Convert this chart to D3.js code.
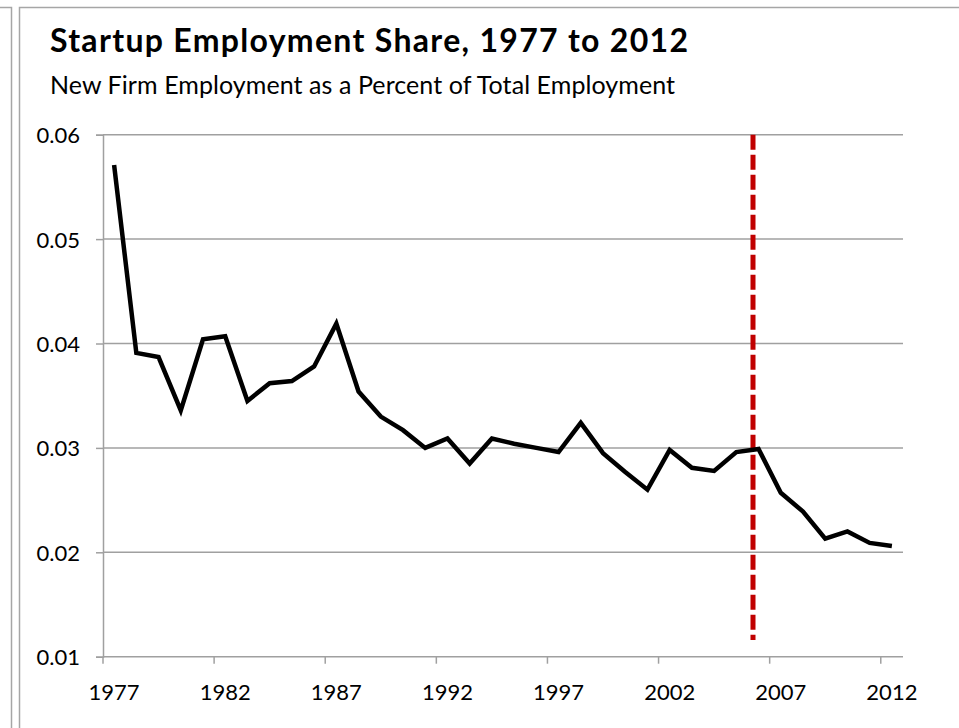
<!DOCTYPE html>
<html>
<head>
<meta charset="utf-8">
<script src="https://cdn.jsdelivr.net/npm/d3@7/dist/d3.min.js"></script>
<style>
  body { margin: 0; background: #fff; }
  svg text { font-family: Lato, "Open Sans", sans-serif; fill: #000; }
</style>
</head>
<body>
<div id="my_chart"></div>
<script>
// —————————— DATA
var years = d3.range(1977, 2013).map(String);
var shares = [
  0.0571, 0.0391, 0.0387, 0.0336, 0.0404, 0.0407, 0.0345, 0.0362, 0.0364, 0.0378,
  0.0419, 0.0354, 0.0330, 0.0317, 0.0300, 0.0309, 0.0285, 0.0309, 0.0304, 0.0300,
  0.0296, 0.0324, 0.0295, 0.0277, 0.0260, 0.0298, 0.0281, 0.0278, 0.0296, 0.0299,
  0.0257, 0.0239, 0.0213, 0.0220, 0.0209, 0.0206
];
var yTicks = [0.01, 0.02, 0.03, 0.04, 0.05, 0.06];
var xTickLabels = ['1977', '1982', '1987', '1992', '1997', '2002', '2007', '2012'];
// red dashed marker (year position, and vertical extent in share units)
var markerYear = 2005.75;
var markerRange = [0.0116, 0.06];

// —————————— SETUP
var W = 959, H = 728;
var plot = {left: 103, right: 903, top: 134.7, bottom: 656.7};

var svg = d3.select("#my_chart")
  .append("svg")
    .attr("width", W)
    .attr("height", H);

// outer frame (spreadsheet cell borders)
var frameCol = "#a6a6a6";
svg.append("path")
  .attr("d", "M0,7.5H11.5V" + H + " M19.5," + H + "V7.5H" + W)
  .attr("fill", "none")
  .attr("stroke", frameCol)
  .attr("stroke-width", 1.5);

var x = d3.scaleBand()
  .domain(years)
  .range([plot.left, plot.right])
  .padding(0);

var y = d3.scaleLinear()
  .domain([0.01, 0.06])
  .range([plot.bottom, plot.top]);

var xc = function(yr) { return x(yr) + x.bandwidth() / 2; };

// —————————— TITLES
svg.append("text")
  .attr("x", 50)
  .attr("y", 52)
  .style("font-size", "32px")
  .style("font-weight", "bold")
  .attr("textLength", 638)
  .attr("lengthAdjust", "spacing")
  .text("Startup Employment Share, 1977 to 2012");

svg.append("text")
  .attr("x", 50)
  .attr("y", 94)
  .style("font-size", "25px")
  .attr("textLength", 625)
  .attr("lengthAdjust", "spacing")
  .text("New Firm Employment as a Percent of Total Employment");

// —————————— GRID + AXES
var gridCol = "#a0a0a0";

svg.append("g")
  .selectAll("line")
  .data(yTicks.slice(1))
  .enter()
  .append("line")
    .attr("x1", plot.left)
    .attr("x2", plot.right)
    .attr("y1", function(d) { return y(d); })
    .attr("y2", function(d) { return y(d); })
    .attr("stroke", gridCol)
    .attr("stroke-width", 1.5);

var yAxis = svg.append("g")
  .attr("transform", "translate(" + plot.left + ",0)")
  .call(d3.axisLeft(y).tickValues(yTicks).tickSize(7).tickPadding(16)
    .tickFormat(d3.format(".2f")));
yAxis.select(".domain").attr("stroke", gridCol).attr("stroke-width", 1.5);
yAxis.selectAll(".tick line").attr("stroke", gridCol).attr("stroke-width", 1.5);
yAxis.selectAll(".tick text")
  .style("font-size", "22px")
  .attr("font-family", null)
  .attr("dy", "0.36em");

// x axis: ticks on category boundaries, labels on category centres
var xAxisG = svg.append("g");
xAxisG.append("line")
  .attr("x1", plot.left).attr("x2", plot.right)
  .attr("y1", y(0.01)).attr("y2", y(0.01))
  .attr("stroke", gridCol).attr("stroke-width", 1.5);

xAxisG.selectAll("line.tk")
  .data(xTickLabels)
  .enter()
  .append("line")
    .attr("class", "tk")
    .attr("x1", function(d) { return x(d); })
    .attr("x2", function(d) { return x(d); })
    .attr("y1", y(0.01))
    .attr("y2", y(0.01) + 7)
    .attr("stroke", gridCol)
    .attr("stroke-width", 1.5);

xAxisG.selectAll("text")
  .data(xTickLabels)
  .enter()
  .append("text")
    .attr("x", function(d) { return xc(d); })
    .attr("y", y(0.01) + 43)
    .attr("text-anchor", "middle")
    .style("font-size", "22px")
    .text(function(d) { return d; });

// —————————— MARKER LINE
var mx = d3.scaleLinear()
  .domain([1977, 2012])
  .range([xc("1977"), xc("2012")]);

svg.append("line")
  .attr("x1", mx(markerYear))
  .attr("x2", mx(markerYear))
  .attr("y1", y(markerRange[1]))
  .attr("y2", y(markerRange[0]))
  .attr("stroke", "#c00000")
  .attr("stroke-width", 5)
  .attr("stroke-dasharray", "15,5");

// —————————— DATA LINE
var line = d3.line()
  .x(function(d, i) { return xc(years[i]); })
  .y(function(d) { return y(d); });

svg.append("path")
  .datum(shares)
  .attr("d", line)
  .attr("fill", "none")
  .attr("stroke", "#000")
  .attr("stroke-width", 4.5)
  .attr("stroke-linejoin", "miter");
</script>
</body>
</html>
